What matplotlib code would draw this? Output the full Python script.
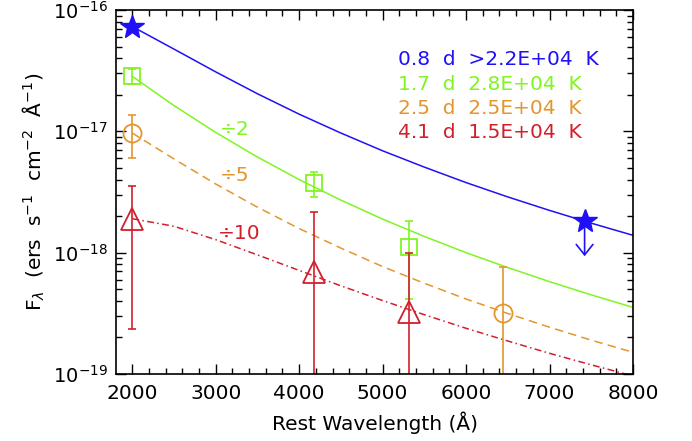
import matplotlib
matplotlib.use("Agg")
import matplotlib.pyplot as plt
from matplotlib.ticker import MultipleLocator, FixedLocator, NullFormatter, LogFormatterSciNotation

plt.rcParams['font.family'] = ['DejaVu Sans']
plt.rcParams['mathtext.fontset'] = 'dejavusans'

# ---- model curves ----
wave_model = [2000, 2500, 3000, 3500, 4000, 4500, 5000, 5500, 6000, 6500, 7000, 7500, 8000]
model_08d = [7.31e-17, 4.76e-17, 3.09e-17, 2.04e-17, 1.385e-17, 9.68e-18, 6.91e-18,
             5.07e-18, 3.78e-18, 2.88e-18, 2.23e-18, 1.75e-18, 1.39e-18]
model_17d = [2.84e-17, 1.63e-17, 9.79e-18, 6.14e-18, 4.00e-18, 2.71e-18, 1.89e-18,
             1.36e-18, 1.00e-18, 7.54e-19, 5.77e-19, 4.49e-19, 3.54e-19]
model_25d = [9.68e-18, 5.92e-18, 3.68e-18, 2.37e-18, 1.58e-18, 1.09e-18, 7.68e-19,
             5.59e-19, 4.15e-19, 3.15e-19, 2.43e-19, 1.90e-19, 1.51e-19]
model_41d = [1.905e-18, 1.65e-18, 1.28e-18, 9.59e-19, 7.14e-19, 5.33e-19, 4.03e-19,
             3.08e-19, 2.38e-19, 1.87e-19, 1.48e-19, 1.19e-19, 9.63e-20]

# ---- photometry ----
wave_08d = [2000, 7420]
flux_08d = [7.3e-17, 1.83e-18]
limit_08d_end = 9.35e-19

wave_17d = [2000, 4180, 5310]
flux_17d = [2.84e-17, 3.76e-18, 1.12e-18]
hi_17d = [3.28e-17, 4.62e-18, 1.82e-18]
lo_17d = [2.44e-17, 2.88e-18, 4.14e-19]

wave_25d = [2000, 6445]
flux_25d = [9.68e-18, 3.16e-19]
hi_25d = [1.37e-17, 7.55e-19]
lo_25d = [6.03e-18, 1e-20]

wave_41d = [2000, 4180, 5310]
flux_41d = [1.89e-18, 6.95e-19, 3.23e-19]
hi_41d = [3.55e-18, 2.17e-18, 1.0e-18]
lo_41d = [2.34e-19, 1e-20, 1e-20]

labels = ["0.8  d  >2.2E+04  K", "1.7  d  2.8E+04  K", "2.5  d  2.5E+04  K", "4.1  d  1.5E+04  K"]
scale_labels = ["\u00f72", "\u00f75", "\u00f710"]
y_major = [1e-19, 1e-18, 1e-17, 1e-16]
y_minor = [m * 10.0**e for e in (-19, -18, -17) for m in range(2, 10)]

c_blue = '#2010F5'
c_green = '#80F520'
c_orange = '#E3962E'
c_red = '#D21F2C'

fig = plt.figure(figsize=(6.92, 4.41), dpi=100)
ax = fig.add_axes([116/692, 1-374/441, (633-116)/692, (374-10)/441])
ax.set_yscale('log')
ax.set_xlim(1805, 8000)
ax.set_ylim(1e-19, 1e-16)

lw = 1.1
ax.plot(wave_model, model_08d, color=c_blue, lw=lw)
ax.plot(wave_model, model_17d, color=c_green, lw=lw)
ax.plot(wave_model, model_25d, color=c_orange, lw=lw, linestyle=(0, (5.5, 3.5)))
ax.plot(wave_model, model_41d, color=c_red, lw=lw, linestyle=(0, (4.5, 2.2, 1.0, 2.2)))

def eb(w, f, lo, hi, color, marker, ms):
    yerr = [[fi - l for fi, l in zip(f, lo)], [h - fi for fi, h in zip(f, hi)]]
    ax.errorbar(w, f, yerr=yerr, fmt='none', ecolor=color, elinewidth=1.2,
                capsize=2.8, capthick=1.2)
    ax.plot(w, f, linestyle='none', marker=marker, ms=ms, mfc='none',
            mec=color, mew=1.3)

eb(wave_17d, flux_17d, lo_17d, hi_17d, c_green, 's', 12)
eb(wave_25d, flux_25d, lo_25d, hi_25d, c_orange, 'o', 13)
eb(wave_41d, flux_41d, lo_41d, hi_41d, c_red, '^', 16)

ax.plot(wave_08d, flux_08d, linestyle='none', marker='*', ms=18, color=c_blue, mec=c_blue)
ax.annotate('', xy=(wave_08d[1], limit_08d_end), xytext=(wave_08d[1], flux_08d[1]),
            arrowprops=dict(arrowstyle='->,head_length=0.75,head_width=0.6',
                            color=c_blue, lw=1.2, shrinkA=0, shrinkB=0))

fs = 14.5
ax.text(3050, 1.03e-17, scale_labels[0], color=c_green, fontsize=fs, ha='left', va='center')
ax.text(3050, 4.35e-18, scale_labels[1], color=c_orange, fontsize=fs, ha='left', va='center')
ax.text(3030, 1.43e-18, scale_labels[2], color=c_red, fontsize=fs, ha='left', va='center')

for i, (lab, col) in enumerate(zip(labels, [c_blue, c_green, c_orange, c_red])):
    ypix = 59.5 + 24.5 * i
    ax.text((398 - 116) / (633 - 116), (374 - ypix) / (374 - 10), lab, color=col,
            fontsize=fs, ha='left', va='center', transform=ax.transAxes)

ax.xaxis.set_major_locator(MultipleLocator(1000))
ax.xaxis.set_minor_locator(MultipleLocator(200))
ax.yaxis.set_major_locator(FixedLocator(y_major))
ax.yaxis.set_major_formatter(LogFormatterSciNotation())
ax.yaxis.set_minor_locator(FixedLocator(y_minor))
ax.yaxis.set_minor_formatter(NullFormatter())
ax.tick_params(which='both', direction='in', top=True, right=True, labelsize=fs, width=1.0)
ax.tick_params(which='major', length=7.5, pad=7)
ax.tick_params(which='minor', length=4)
ax.tick_params(axis='y', which='major', pad=6, labelsize=14)
for s in ax.spines.values():
    s.set_linewidth(1.2)

ax.set_xlabel('Rest Wavelength (\u00c5)', fontsize=fs, labelpad=6)
ax.set_ylabel('F$_\\lambda$  (ers  s$^{-1}$  cm$^{-2}$  \u00c5$^{-1}$)',
              fontsize=fs, labelpad=4)

fig.savefig('out.png', dpi=100)
